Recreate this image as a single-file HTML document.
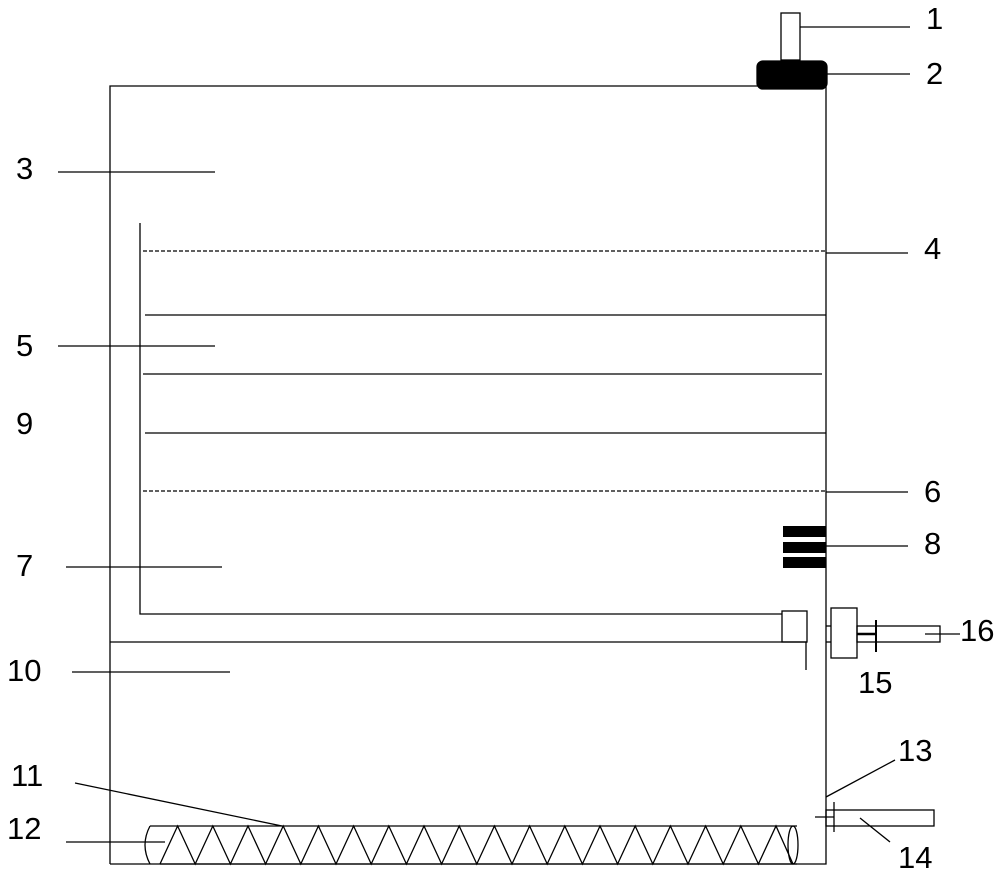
<!DOCTYPE html>
<html><head><meta charset="utf-8"><style>
html,body{margin:0;padding:0;background:#fff;width:1000px;height:875px;overflow:hidden}
text{font-family:"Liberation Sans",sans-serif;font-size:31px;fill:#000}
</style></head><body>
<svg width="1000" height="875" viewBox="0 0 1000 875" xmlns="http://www.w3.org/2000/svg">
<g stroke="#000" stroke-width="1.3" fill="none">
<!-- tank -->
<polyline points="110,864 110,86 826,86 826,864 110,864"/>
<!-- top fitting -->
<rect x="781" y="13" width="19" height="47" fill="#fff"/>
<rect x="757" y="61" width="70" height="28" rx="6" fill="#000"/>
<line x1="800" y1="27" x2="910" y2="27"/>
<line x1="827" y1="74" x2="910" y2="74"/>
<!-- label lines -->
<line x1="58" y1="172" x2="215" y2="172"/>
<line x1="58" y1="346" x2="215" y2="346"/>
<line x1="66" y1="567" x2="222" y2="567"/>
<line x1="72" y1="672" x2="230" y2="672"/>
<line x1="826" y1="253" x2="908" y2="253"/>
<line x1="826" y1="492" x2="908" y2="492"/>
<line x1="826" y1="546" x2="908" y2="546"/>
<!-- inner L -->
<polyline points="140,223 140,614 782,614"/>
<line x1="110" y1="642" x2="807" y2="642"/>
<rect x="782" y="611" width="25" height="31"/>
<line x1="806" y1="642" x2="806" y2="670"/>
<!-- layers -->
<line x1="143" y1="251" x2="826" y2="251" stroke-dasharray="4,2"/>
<line x1="145" y1="315" x2="826" y2="315"/>
<line x1="143" y1="374" x2="822" y2="374"/>
<line x1="145" y1="433" x2="826" y2="433"/>
<line x1="143" y1="491" x2="826" y2="491" stroke-dasharray="4,2"/>
<!-- heater bars -->
<rect x="783" y="526" width="43" height="11" fill="#000" stroke="none"/>
<rect x="783" y="542" width="43" height="11" fill="#000" stroke="none"/>
<rect x="783" y="557" width="43" height="11" fill="#000" stroke="none"/>
<!-- valve 15 / pipe 16 -->
<line x1="826" y1="626" x2="831" y2="626"/>
<line x1="826" y1="642" x2="831" y2="642"/>
<rect x="831" y="608" width="26" height="50"/>
<rect x="857" y="626" width="83" height="16"/>
<line x1="857" y1="634" x2="876" y2="634" stroke-width="2.5"/>
<line x1="876" y1="620" x2="876" y2="652" stroke-width="2"/>
<line x1="925" y1="634" x2="960" y2="634"/>
<!-- outlet 14 -->
<rect x="826" y="810" width="108" height="16"/>
<line x1="834" y1="802" x2="834" y2="832"/>
<line x1="815" y1="817" x2="834" y2="817"/>
<line x1="826" y1="797" x2="895" y2="760"/>
<line x1="860" y1="818" x2="890" y2="842"/>
<!-- screw conveyor -->
<path d="M150,826 L797,826 M160,864 L797,864"/>
<path d="M150,826 Q140,845 150,864"/>
<ellipse cx="793" cy="845" rx="5" ry="19"/>
<polyline points="160,864 177.6,826 195.2,864 212.8,826 230.4,864 248,826 265.6,864 283.2,826 300.8,864 318.4,826 336,864 353.6,826 371.2,864 388.8,826 406.4,864 424,826 441.6,864 459.2,826 476.8,864 494.4,826 512,864 529.6,826 547.2,864 564.8,826 582.4,864 600,826 617.6,864 635.2,826 652.8,864 670.4,826 688,864 705.6,826 723.2,864 740.8,826 758.4,864 776,826 793,864"/>
<line x1="75" y1="783" x2="282" y2="826"/>
<line x1="66" y1="842" x2="165" y2="842"/>
</g>
<text x="926" y="29">1</text>
<text x="926" y="84">2</text>
<text x="16" y="179">3</text>
<text x="924" y="259">4</text>
<text x="16" y="356">5</text>
<text x="16" y="434">9</text>
<text x="924" y="502">6</text>
<text x="924" y="554">8</text>
<text x="16" y="576">7</text>
<text x="7" y="681">10</text>
<text x="11" y="786">11</text>
<text x="7" y="839">12</text>
<text x="898" y="761">13</text>
<text x="898" y="868">14</text>
<text x="858" y="693">15</text>
<text x="960" y="641">16</text>
</svg>
</body></html>
